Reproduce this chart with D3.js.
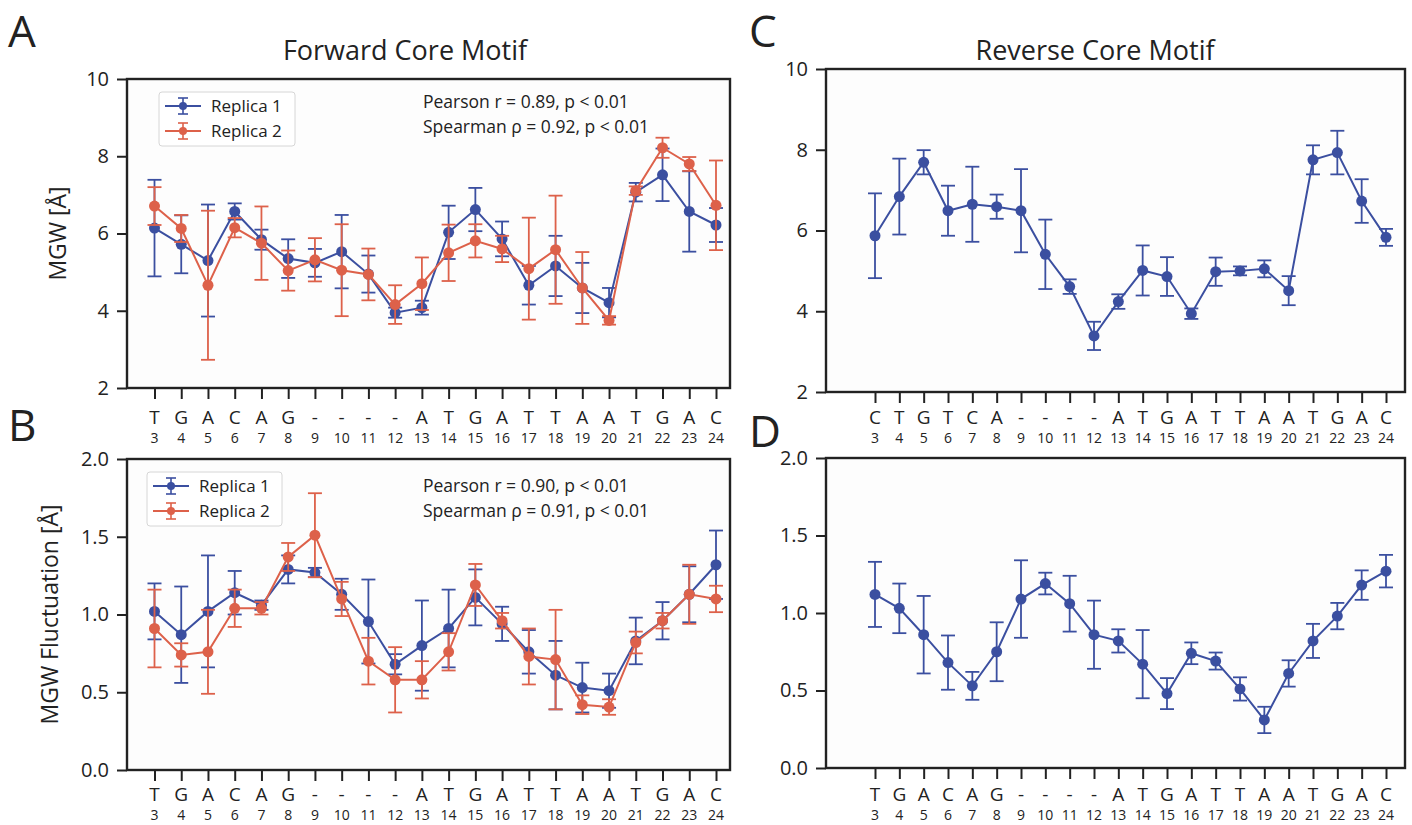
<!DOCTYPE html>
<html>
<head>
<meta charset="utf-8">
<script src="https://cdn.jsdelivr.net/npm/d3@7"></script>
<style>
  body { margin: 0; background: #fff; }
  svg text { font-family: "Open Sans", "DejaVu Sans", sans-serif; fill: #222; }
</style>
</head>
<body>
<svg id="fig" width="1412" height="825"></svg>
<script>
// ===== Data =====
const positions = ["3","4","5","6","7","8","9","10","11","12","13","14","15","16","17","18","19","20","21","22","23","24"];
const fwdBases = ["T","G","A","C","A","G","-","-","-","-","A","T","G","A","T","T","A","A","T","G","A","C"];
const revBases = ["C","T","G","T","C","A","-","-","-","-","A","T","G","A","T","T","A","A","T","G","A","C"];

// A: forward MGW
const fwdMgwRep1    = [6.14,5.72,5.30,6.57,5.84,5.35,5.24,5.53,4.95,3.95,4.08,6.03,6.62,5.86,4.66,5.16,4.59,4.21,7.07,7.52,6.57,6.22];
const fwdMgwRep1Err = [1.25,0.75,1.45,0.21,0.26,0.50,0.36,0.95,0.48,0.13,0.18,0.69,0.56,0.45,0.50,0.78,0.65,0.38,0.24,0.68,1.04,0.44];
const fwdMgwRep2    = [6.71,6.13,4.66,6.15,5.75,5.04,5.32,5.05,4.94,4.16,4.70,5.50,5.81,5.60,5.09,5.58,4.59,3.75,7.11,8.22,7.80,6.73];
const fwdMgwRep2Err = [0.49,0.35,1.93,0.25,0.95,0.52,0.56,1.19,0.67,0.50,0.68,0.73,0.43,0.34,1.32,1.40,0.93,0.11,0.11,0.26,0.18,1.16];

// B: forward MGW fluctuation
const fwdFlucRep1    = [1.02,0.87,1.02,1.14,1.06,1.29,1.27,1.13,0.955,0.68,0.80,0.91,1.11,0.94,0.76,0.61,0.53,0.51,0.83,0.96,1.13,1.32];
const fwdFlucRep1Err = [0.18,0.31,0.36,0.14,0.03,0.09,0.03,0.10,0.27,0.065,0.29,0.25,0.18,0.11,0.14,0.22,0.16,0.11,0.15,0.12,0.18,0.22];
const fwdFlucRep2    = [0.91,0.74,0.76,1.04,1.04,1.37,1.51,1.10,0.70,0.58,0.58,0.76,1.19,0.96,0.73,0.71,0.42,0.405,0.82,0.96,1.13,1.10];
const fwdFlucRep2Err = [0.25,0.075,0.27,0.12,0.04,0.09,0.27,0.11,0.15,0.21,0.12,0.12,0.135,0.05,0.18,0.32,0.06,0.05,0.07,0.05,0.19,0.085];

// C: reverse MGW
const revMgw    = [5.87,6.84,7.69,6.49,6.65,6.59,6.49,5.41,4.61,3.39,4.24,5.01,4.86,3.94,4.98,5.00,5.05,4.51,7.75,7.93,6.73,5.83];
const revMgwErr = [1.05,0.94,0.30,0.62,0.93,0.30,1.03,0.86,0.18,0.35,0.18,0.62,0.48,0.13,0.35,0.11,0.21,0.36,0.36,0.54,0.54,0.21];

// D: reverse MGW fluctuation
const revFluc    = [1.12,1.03,0.86,0.68,0.53,0.75,1.09,1.19,1.06,0.86,0.82,0.67,0.48,0.74,0.69,0.51,0.31,0.61,0.82,0.98,1.18,1.27];
const revFlucErr = [0.21,0.16,0.25,0.175,0.09,0.19,0.25,0.07,0.18,0.22,0.075,0.22,0.10,0.07,0.055,0.075,0.085,0.085,0.11,0.085,0.095,0.105];

const mgwTicks = [2, 4, 6, 8, 10];
const flucTicks = [0, 0.5, 1.0, 1.5, 2.0];

const BLUE = "#3b4fa0";
const RED = "#dd614a";

// ===== Layout =====
// frame = spines, pts = pixel span of first/last position
const panels = [
  { letter: "A", frame: [127, 730], pts: [154.5, 716], top: 79, bottom: 388, y: [2, 10], ticks: mgwTicks, fmt: d3.format("d"),
    bases: fwdBases, title: "Forward Core Motif", titleX: 405, ylabel: "MGW [Å]", ylabelX: 58,
    series: [
      { name: "Replica 1", v: fwdMgwRep1, e: fwdMgwRep1Err, color: BLUE },
      { name: "Replica 2", v: fwdMgwRep2, e: fwdMgwRep2Err, color: RED }
    ],
    legend: { x: 159, y: 92, w: 136, h: 54 },
    stats: { x: 423, y: 108, lines: ["Pearson r = 0.89, p < 0.01", "Spearman ρ = 0.92, p < 0.01"] },
    rows: [424, 443], letterX: 8, letterY: 47 },
  { letter: "B", frame: [127, 730], pts: [154.5, 716], top: 459, bottom: 770, y: [0, 2], ticks: flucTicks, fmt: d3.format(".1f"),
    bases: fwdBases, ylabel: "MGW Fluctuation [Å]", ylabelX: 50,
    series: [
      { name: "Replica 1", v: fwdFlucRep1, e: fwdFlucRep1Err, color: BLUE },
      { name: "Replica 2", v: fwdFlucRep2, e: fwdFlucRep2Err, color: RED }
    ],
    legend: { x: 147, y: 472, w: 135, h: 54 },
    stats: { x: 423, y: 492, lines: ["Pearson r = 0.90, p < 0.01", "Spearman ρ = 0.91, p < 0.01"] },
    rows: [801, 820], letterX: 8, letterY: 441 },
  { letter: "C", frame: [826, 1405], pts: [875, 1386], top: 69, bottom: 392, y: [2, 10], ticks: mgwTicks, fmt: d3.format("d"),
    bases: revBases, title: "Reverse Core Motif", titleX: 1095,
    series: [{ name: "Replica 1", v: revMgw, e: revMgwErr, color: BLUE }],
    rows: [424, 443], letterX: 749, letterY: 47 },
  { letter: "D", frame: [826, 1405], pts: [875, 1386], top: 458, bottom: 768, y: [0, 2], ticks: flucTicks, fmt: d3.format(".1f"),
    bases: fwdBases,
    series: [{ name: "Replica 1", v: revFluc, e: revFlucErr, color: BLUE }],
    rows: [801, 820], letterX: 749, letterY: 447 }
];

const svg = d3.select("#fig");
svg.append("rect").attr("width", 1412).attr("height", 825).attr("fill", "#fff");

function drawPanel(p) {
  const g = svg.append("g");
  const [left, right] = p.frame;
  const x = d3.scaleLinear().domain([0, positions.length - 1]).range(p.pts);
  const y = d3.scaleLinear().domain(p.y).range([p.bottom, p.top]);
  const idx = positions.map((_, i) => i);

  // frame
  g.append("rect")
    .attr("x", left).attr("y", p.top)
    .attr("width", right - left).attr("height", p.bottom - p.top)
    .attr("fill", "#fdfdfd").attr("stroke", "#222").attr("stroke-width", 2.4);

  // y axis
  const ya = g.append("g").attr("transform", `translate(${left},0)`)
    .call(d3.axisLeft(y).tickValues(p.ticks).tickFormat(p.fmt).tickSize(10).tickPadding(8));
  ya.select(".domain").remove();
  ya.selectAll(".tick line").attr("stroke", "#222").attr("stroke-width", 2);
  ya.selectAll(".tick text").style("font-size", "20px").attr("fill", "#222");

  // x axis: tick marks, labels drawn as base + position rows
  const xa = g.append("g").attr("transform", `translate(0,${p.bottom})`)
    .call(d3.axisBottom(x).tickValues(idx).tickFormat("").tickSize(11));
  xa.select(".domain").remove();
  xa.selectAll(".tick line").attr("stroke", "#222").attr("stroke-width", 2);

  g.selectAll(".base").data(p.bases).enter().append("text")
    .attr("x", (d, i) => x(i)).attr("y", p.rows[0])
    .attr("text-anchor", "middle").style("font-size", "19px").text(d => d);
  g.selectAll(".pos").data(positions).enter().append("text")
    .attr("x", (d, i) => x(i)).attr("y", p.rows[1])
    .attr("text-anchor", "middle").style("font-size", "14px").text(d => d);

  // series
  const line = d3.line().x((d, i) => x(i)).y(d => y(d));
  p.series.forEach(s => {
    const eg = g.append("g").attr("stroke", s.color).attr("stroke-width", 1.8).attr("fill", "none");
    s.v.forEach((v, i) => {
      const cx = x(i), y1 = y(v + s.e[i]), y2 = y(v - s.e[i]);
      eg.append("line").attr("x1", cx).attr("x2", cx).attr("y1", y1).attr("y2", y2);
      eg.append("line").attr("x1", cx - 7).attr("x2", cx + 7).attr("y1", y1).attr("y2", y1);
      eg.append("line").attr("x1", cx - 7).attr("x2", cx + 7).attr("y1", y2).attr("y2", y2);
    });
    g.append("path").datum(s.v).attr("d", line)
      .attr("fill", "none").attr("stroke", s.color).attr("stroke-width", 2);
    g.selectAll(null).data(s.v).enter().append("circle")
      .attr("cx", (d, i) => x(i)).attr("cy", d => y(d)).attr("r", 5.5).attr("fill", s.color);
  });

  // legend
  if (p.legend) {
    const L = p.legend;
    const lg = g.append("g");
    lg.append("rect").attr("x", L.x).attr("y", L.y).attr("width", L.w).attr("height", L.h)
      .attr("rx", 3).attr("fill", "#fff").attr("fill-opacity", 0.85)
      .attr("stroke", "#d6d6d6").attr("stroke-width", 1);
    p.series.forEach((s, k) => {
      const cy = L.y + 14 + k * 25, hx = L.x + 24;
      lg.append("line").attr("x1", hx - 18).attr("x2", hx + 18).attr("y1", cy).attr("y2", cy)
        .attr("stroke", s.color).attr("stroke-width", 2);
      lg.append("line").attr("x1", hx).attr("x2", hx).attr("y1", cy - 8).attr("y2", cy + 8)
        .attr("stroke", s.color).attr("stroke-width", 1.6);
      [cy - 8, cy + 8].forEach(cyy => lg.append("line").attr("x1", hx - 5).attr("x2", hx + 5)
        .attr("y1", cyy).attr("y2", cyy).attr("stroke", s.color).attr("stroke-width", 1.6));
      lg.append("circle").attr("cx", hx).attr("cy", cy).attr("r", 4).attr("fill", s.color);
      lg.append("text").attr("x", L.x + 52).attr("y", cy + 6).style("font-size", "17px").text(s.name);
    });
  }

  // correlation stats
  if (p.stats) {
    p.stats.lines.forEach((t, k) => {
      g.append("text").attr("x", p.stats.x).attr("y", p.stats.y + k * 25)
        .style("font-size", "17.5px").text(t);
    });
  }

  if (p.title) {
    g.append("text").attr("x", p.titleX).attr("y", 60).attr("text-anchor", "middle")
      .style("font-size", "27px").text(p.title);
  }
  if (p.ylabel) {
    g.append("text").attr("transform", `translate(${p.ylabelX},${(p.top + p.bottom) / 2}) rotate(-90)`)
      .attr("text-anchor", "middle").attr("dy", "0.35em")
      .style("font-size", "23px").text(p.ylabel);
  }
  g.append("text").attr("x", p.letterX).attr("y", p.letterY)
    .style("font-size", "44px").text(p.letter);
}

panels.forEach(drawPanel);
</script>
</body>
</html>
